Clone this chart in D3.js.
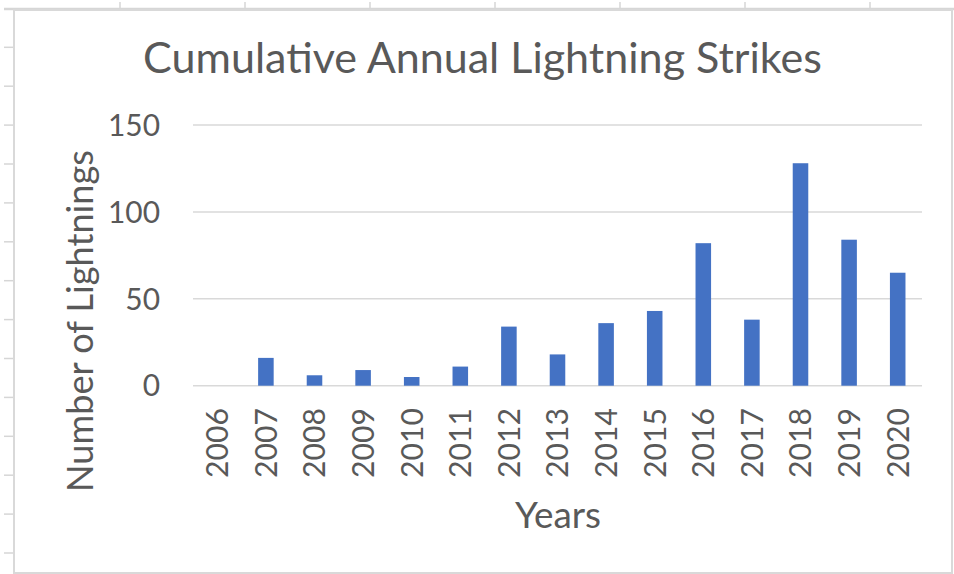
<!DOCTYPE html>
<html><head><meta charset="utf-8">
<script src="https://cdn.jsdelivr.net/npm/d3@7"></script>
<style>html,body{margin:0;padding:0;background:#fff;}svg{display:block;}</style>
</head><body>
<svg id="c" width="954" height="574"></svg>
<script>
const years = ["2006","2007","2008","2009","2010","2011","2012","2013","2014","2015","2016","2017","2018","2019","2020"];
const strikes = [0,16,6,9,5,11,34,18,36,43,82,38,128,84,65];
const yTicks = [0,50,100,150];
const titleText = "Cumulative Annual Lightning Strikes";
const yTitle = "Number of Lightnings";
const xTitle = "Years";

const W = 954, H = 574;
const FONT = "Lato, 'Open Sans', sans-serif";
const TXT = "#595959", GRID = "#D9D9D9", BAR = "#4472C4";
const svg = d3.select("#c");

// spreadsheet background decorations
svg.append("rect").attr("x",0).attr("y",0).attr("width",W).attr("height",H).attr("fill","#fff");
const deco = svg.append("g").attr("stroke","#D6D6D6").attr("stroke-width",1.5);
d3.range(120, W, 125).forEach(xx => deco.append("line").attr("x1",xx).attr("x2",xx).attr("y1",2).attr("y2",10));
d3.range(47.3, H, 38.9).forEach(yy => deco.append("line").attr("x1",4).attr("x2",14).attr("y1",yy).attr("y2",yy));
deco.append("line").attr("x1",4).attr("x2",W).attr("y1",9).attr("y2",9).attr("stroke-width",2.5);
// chart frame
svg.append("rect").attr("x",14).attr("y",10).attr("width",938).attr("height",563)
  .attr("fill","#fff").attr("stroke","#D9D9D9").attr("stroke-width",2);

const x = d3.scaleBand().domain(years).range([193,922]).paddingInner(0.68).paddingOuter(0.34);
const y = d3.scaleLinear().domain([0,150]).range([385.7,125]);

function fit(sel, target){
  const w = sel.node().getComputedTextLength();
  const fs = parseFloat(sel.attr("font-size"));
  sel.attr("font-size", fs*target/w);
}

// gridlines
svg.append("g").selectAll("line").data(yTicks).join("line")
  .attr("x1",193).attr("x2",922).attr("y1",d=>y(d)).attr("y2",d=>y(d))
  .attr("stroke",GRID).attr("stroke-width",1.5);

// bars
svg.append("g").selectAll("rect").data(strikes).join("rect")
  .attr("x",(d,i)=>x(years[i])).attr("width",x.bandwidth())
  .attr("y",d=>y(d)).attr("height",d=>y(0)-y(d)).attr("fill",BAR);

// y tick labels
const yl = svg.append("g").selectAll("text").data(yTicks).join("text")
  .attr("x",160).attr("y",d=>y(d)).attr("text-anchor","end").attr("dy","0.36em")
  .attr("fill",TXT).attr("font-family",FONT).attr("font-size",30).text(d=>d);
fit(d3.select(yl.nodes()[3]), 52);
yl.attr("font-size", d3.select(yl.nodes()[3]).attr("font-size"));

// x tick labels
const xl = svg.append("g").selectAll("text").data(years).join("text")
  .attr("transform",d=>`translate(${x(d)+x.bandwidth()/2},408) rotate(-90)`)
  .attr("text-anchor","end").attr("dy","0.36em")
  .attr("fill",TXT).attr("font-family",FONT).attr("font-size",30).text(d=>d);
fit(d3.select(xl.nodes()[0]), 70);
xl.attr("font-size", d3.select(xl.nodes()[0]).attr("font-size"));

// title
const t = svg.append("text").attr("x",482.5).attr("y",73).attr("text-anchor","middle")
  .attr("fill",TXT).attr("font-family",FONT).attr("font-size",40).text(titleText);
fit(t, 679);

// axis titles
const yt = svg.append("text").attr("transform","translate(80,321) rotate(-90)")
  .attr("text-anchor","middle").attr("dy","0.36em")
  .attr("fill",TXT).attr("font-family",FONT).attr("font-size",32).text(yTitle);
fit(yt, 342);
const xt = svg.append("text").attr("x",558).attr("y",528).attr("text-anchor","middle")
  .attr("fill",TXT).attr("font-family",FONT).attr("font-size",32).text(xTitle);
fit(xt, 86);
</script>
</body></html>
